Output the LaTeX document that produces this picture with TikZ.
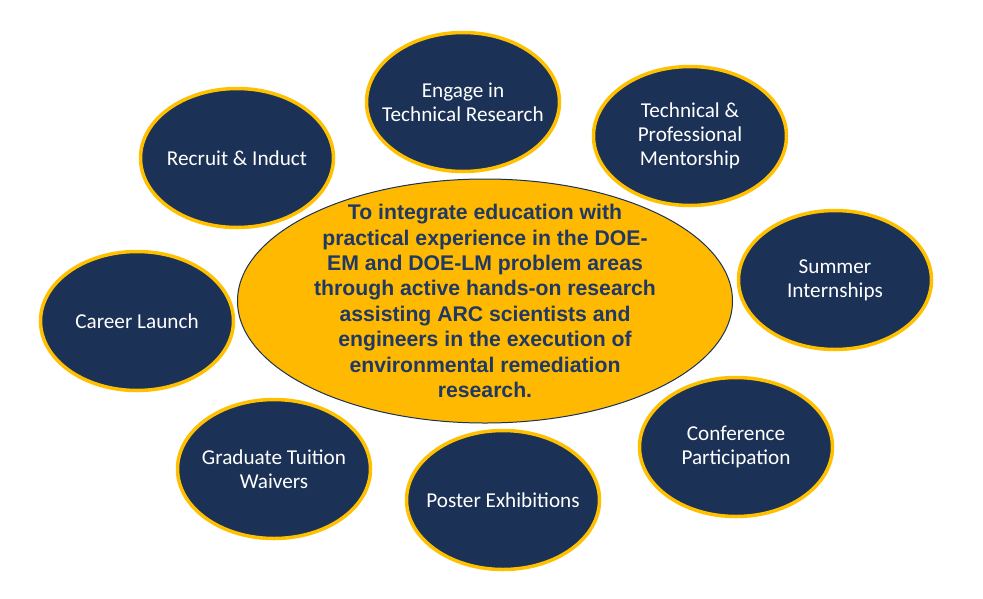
\documentclass[tikz,border=0pt]{standalone}
\usepackage{fontspec}
\setmainfont{Carlito}
\newfontfamily\goalfont{Liberation Sans}
\usetikzlibrary{shapes.geometric}
\definecolor{arcnavy}{RGB}{27,49,86}
\definecolor{arcgold}{RGB}{255,192,0}
\definecolor{goalfill}{RGB}{255,185,0}
\definecolor{goaltext}{RGB}{31,56,100}

\begin{document}
\begin{tikzpicture}[x=1pt,y=-1pt,
    outer text/.style={align=center,text=white,inner sep=0,font=\fontsize{21.2}{24}\selectfont},
    goal text/.style={align=center,text=goaltext,inner sep=0,font=\goalfont\bfseries\fontsize{21.2}{25.4}\selectfont},
    outer node/.style={ellipse,draw=arcgold,fill=arcnavy,line width=3.5,minimum width=193,minimum height=139,inner sep=0,label={[outer text]center:#1}},
    goal node/.style={ellipse,draw=arcnavy,fill=goalfill,line width=1,minimum width=495,minimum height=244,inner sep=0,label={[goal text]center:#1}}]

            \useasboundingbox (0,0) rectangle (983,598);

            \node[goal node={To integrate education with\\practical experience in the DOE-\\EM and DOE-LM problem areas\\through active hands-on research\\assisting ARC scientists and\\engineers in the execution of\\environmental remediation\\research.}] (0) at (485,301) {};

            \node[outer node={Recruit \& Induct}] (1) at (237,158) {};
            \node[outer node={Engage in\\Technical Research}] (2) at (463,102) {};
            \node[outer node={Technical \&\\Professional\\Mentorship}] (3) at (690,136) {};
            \node[outer node={Summer\\Internships}] (4) at (835,280) {};

            \node[outer node={Conference\\Participation}] (5) at (736,447) {};
            \node[outer node={Poster Exhibitions}] (6) at (503,500) {};
            \node[outer node={Graduate Tuition\\Waivers}] (7) at (274,469) {};
            \node[outer node={Career Launch}] (8) at (137,321) {};
        \end{tikzpicture}
\end{document}
